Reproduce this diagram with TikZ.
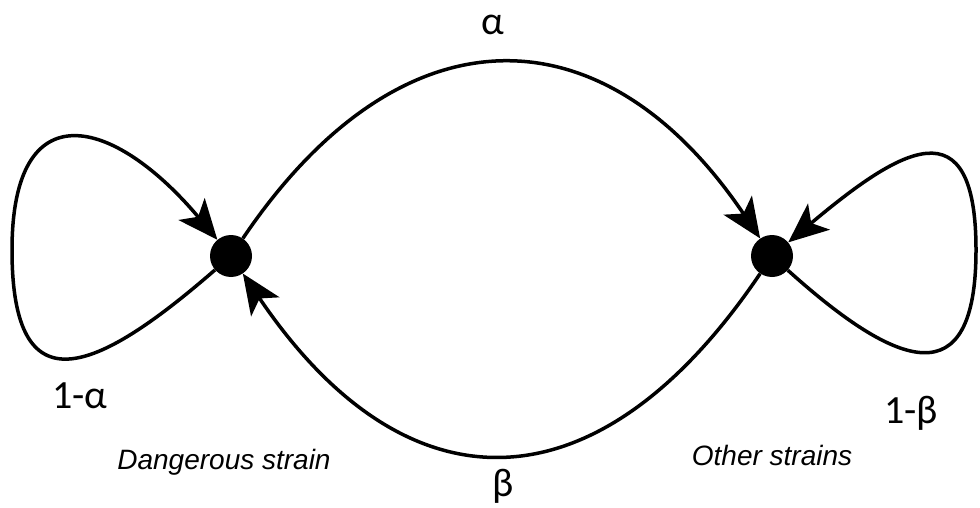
\documentclass[tikz,border=0pt]{standalone}
\usepackage{fontspec}
\setmainfont{Carlito}
\newfontfamily\arialfont{Liberation Sans}
\usetikzlibrary{arrows.meta}

\begin{document}
\begin{tikzpicture}[x=1pt,y=-1pt,
    titik/.style={circle,fill=black,inner sep=0pt,minimum size=42pt},
    tebal/.style={line width=3.5pt},
    panah/.style={tebal,-{Stealth[length=40pt,width=34pt,inset=10pt]}},
    huruf/.style={font=\fontsize{40}{48}\selectfont,anchor=base,inner sep=0pt},
    ket/.style={font=\arialfont\itshape\fontsize{28}{34}\selectfont,anchor=base,
      inner sep=0pt}]
  \useasboundingbox (0,0) rectangle (980,508);

  % dua titik dan ujung simpul
  \node[titik] (ds) at (231,256) {};
  \node[titik] (os) at (772,256) {};
  \coordinate (lw) at (12,250);
  \coordinate (rw) at (976,250);

  % busur atas dan bawah
  \draw[panah] (ds) .. controls +(-56:302) and +(-124:302) .. (os);
  \draw[panah] (os) .. controls +(124:312) and +(56:312) .. (ds);

  % simpul kiri dan kanan
  \draw[panah] (ds) to[out=221,in=270,looseness=2] (lw)
    to[out=90,in=130,looseness=2] (ds);
  \draw[panah] (os) to[out=-42,in=270,looseness=2] (rw)
    to[out=90,in=40,looseness=2] (os);

  % label
  \node[huruf] (a) at (493,35) {α};
  \node[huruf] (b) at (503,496) {β};
  \node[huruf] (la) at (80,408) {1-α};
  \node[huruf] (lb) at (911,423) {1-β};
  \node[ket] (kd) at (224,469) {Dangerous strain};
  \node[ket] (ko) at (772,465) {Other strains};
\end{tikzpicture}
\end{document}
